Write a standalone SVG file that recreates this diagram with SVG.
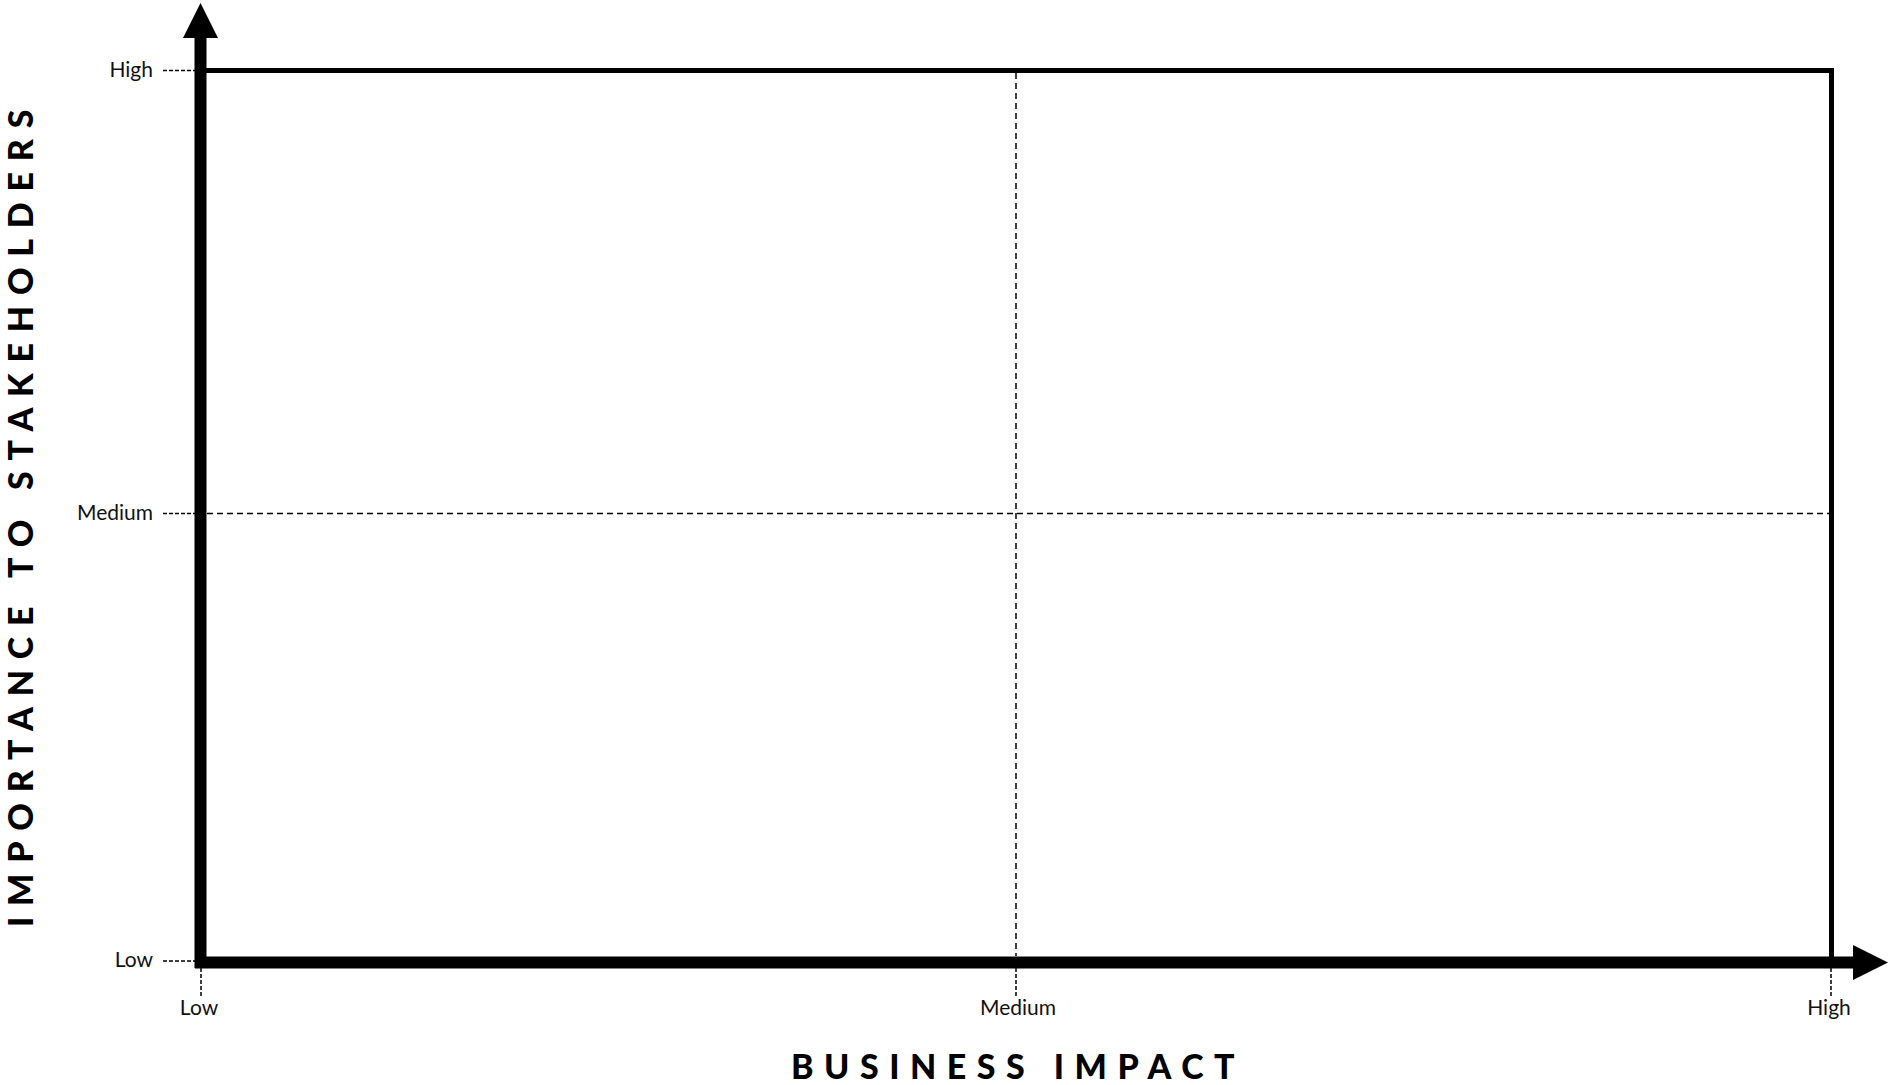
<svg xmlns="http://www.w3.org/2000/svg" width="1888" height="1085" viewBox="0 0 1888 1085">
<style>
.lbl{font-family:Lato,"Open Sans","Liberation Sans",sans-serif;font-size:21px;fill:#111}
.ttl{font-family:Lato,"Liberation Sans",sans-serif;font-size:34px;font-weight:900;fill:#000}
.tx{letter-spacing:10.5px}
.ty{letter-spacing:10.8px}
.grid{stroke:#000;stroke-width:1.5;stroke-dasharray:6 4;fill:none}
.tick{stroke:#000;stroke-width:1.5;stroke-dasharray:4 2;fill:none}
.frame{stroke:#000;stroke-width:5;fill:none}
.axis{stroke:#000;stroke-width:12;fill:none}
</style>
<rect width="1888" height="1085" fill="#fff"/>
<g id="grid">
<line class="grid" x1="1016" y1="73" x2="1016" y2="956"/>
<line class="grid" x1="207" y1="513.5" x2="1829" y2="513.5"/>
</g>
<g id="ticks">
<line class="tick" x1="163" y1="70.5" x2="195" y2="70.5"/>
<line class="tick" x1="163" y1="513.5" x2="195" y2="513.5"/>
<line class="tick" x1="163" y1="961" x2="195" y2="961"/>
<line class="tick" x1="201" y1="968" x2="201" y2="998"/>
<line class="tick" x1="1016" y1="968" x2="1016" y2="996"/>
<line class="tick" x1="1831" y1="968" x2="1831" y2="998"/>
</g>
<g id="frame">
<polyline class="frame" points="200,70.5 1831.5,70.5 1831.5,962"/>
</g>
<g id="axes">
<line class="axis" x1="200.5" y1="968" x2="200.5" y2="36"/>
<polygon points="200.5,3 218,38 183,38"/>
<line class="axis" x1="195" y1="962.5" x2="1855" y2="962.5"/>
<polygon points="1888,962.5 1853,980 1853,945"/>
</g>
<g id="y-labels">
<text class="lbl" x="153" y="77" text-anchor="end">High</text>
<text class="lbl" x="153" y="520" text-anchor="end">Medium</text>
<text class="lbl" x="153" y="967" text-anchor="end">Low</text>
</g>
<g id="x-labels">
<text class="lbl" x="199" y="1015" text-anchor="middle">Low</text>
<text class="lbl" x="1018" y="1015" text-anchor="middle">Medium</text>
<text class="lbl" x="1829" y="1015" text-anchor="middle">High</text>
</g>
<g id="titles">
<text class="ttl tx" x="791" y="1079">BUSINESS IMPACT</text>
<text class="ttl ty" transform="translate(33,927) rotate(-90)" x="0" y="0">IMPORTANCE TO STAKEHOLDERS</text>
</g>
</svg>
